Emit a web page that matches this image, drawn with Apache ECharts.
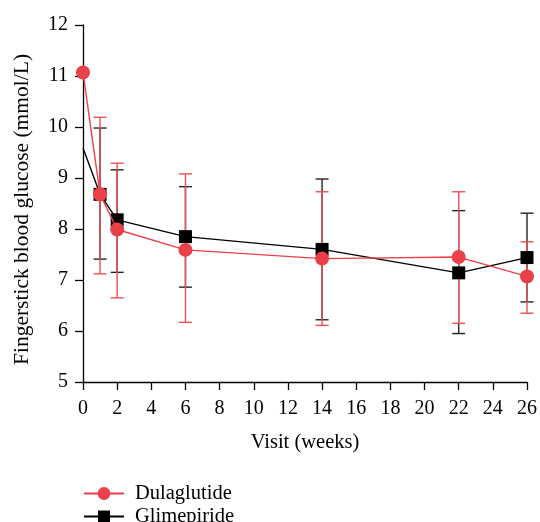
<!DOCTYPE html>
<html><head><meta charset="utf-8">
<script src="https://cdn.jsdelivr.net/npm/echarts@6/dist/echarts.min.js"></script>
<style>html,body{margin:0;padding:0;background:#fff}#c{width:540px;height:522px}</style>
</head><body><div id="c"></div>
<script>
var weeks = [0, 1, 2, 6, 14, 22, 26];
var dulaMean = [11.07, 8.68, 7.99, 7.59, 7.42, 7.45, 7.07];
var dulaUpper = [null, 10.19, 9.29, 9.08, 8.73, 8.73, 7.75];
var dulaLower = [null, 7.12, 6.65, 6.17, 6.11, 6.15, 6.35];
var glimMean = [9.59, 8.68, 8.18, 7.85, 7.60, 7.14, 7.44];
var glimUpper = [null, 9.98, 9.16, 8.83, 8.98, 8.36, 8.31];
var glimLower = [null, 7.41, 7.15, 6.86, 6.22, 5.95, 6.57];
var xTicks = [0, 2, 4, 6, 8, 10, 12, 14, 16, 18, 20, 22, 24, 26];
var yTicks = [5, 6, 7, 8, 9, 10, 11, 12];

var RED = '#ea4149', BLACK = '#000000';
var FONT = 'Liberation Serif';
var FS = 20;

function errData(up, lo) {
  var out = [];
  for (var i = 0; i < weeks.length; i++) if (up[i] != null) out.push([weeks[i], lo[i], up[i]]);
  return out;
}
function errSeries(up, lo, color, z) {
  return {
    type: 'custom', z: z, silent: true, legendHoverLink: false,
    data: errData(up, lo),
    renderItem: function (params, api) {
      var x = api.value(0);
      var p1 = api.coord([x, api.value(1)]);
      var p2 = api.coord([x, api.value(2)]);
      var w = 6.5;
      var st = { stroke: color, lineWidth: 1.4 };
      return { type: 'group', children: [
        { type: 'line', shape: { x1: p1[0], y1: p1[1], x2: p2[0], y2: p2[1] }, style: st },
        { type: 'line', shape: { x1: p1[0] - w, y1: p1[1], x2: p1[0] + w, y2: p1[1] }, style: st },
        { type: 'line', shape: { x1: p2[0] - w, y1: p2[1], x2: p2[0] + w, y2: p2[1] }, style: st }
      ]};
    }
  };
}
function pts(vals) { return weeks.map(function (w, i) { return [w, vals[i]]; }); }
var glimPts = pts(glimMean);
glimPts[0] = { value: glimPts[0], symbol: 'none' };

var legText = { fontFamily: FONT, fontSize: 20.5, color: '#000', padding: [0, 0, 0, 6] };
var chart = echarts.init(document.getElementById('c'));
chart.setOption({
  animation: false,
  grid: { left: 83, right: 11, top: 25, bottom: 140 },
  legend: [
    { left: 78, top: 478, itemWidth: 40, itemHeight: 16, itemGap: 4, textStyle: legText, data: ['Dulaglutide'] },
    { left: 78, top: 501, itemWidth: 40, itemHeight: 15, itemGap: 4, textStyle: legText, data: ['Glimepiride'] }
  ],
  xAxis: {
    type: 'value', min: 0, max: 26, interval: 2,
    name: 'Visit (weeks)', nameLocation: 'middle', nameGap: 50,
    nameTextStyle: { fontFamily: FONT, fontSize: 20.5, color: '#000' },
    axisLine: { lineStyle: { color: '#000', width: 1.3 } },
    axisTick: { length: 8, lineStyle: { color: '#000', width: 1.3 } },
    axisLabel: { fontFamily: FONT, fontSize: FS, color: '#000', margin: 17 },
    splitLine: { show: false }
  },
  yAxis: {
    type: 'value', min: 5, max: 12, interval: 1,
    name: 'Fingerstick blood glucose (mmol/L)', nameLocation: 'middle', nameGap: 50,
    nameTextStyle: { fontFamily: FONT, fontSize: 21.5, color: '#000', padding: [0, 12, 0, 0] },
    axisLine: { show: true, lineStyle: { color: '#000', width: 1.3 } },
    axisTick: { show: true, length: 8, lineStyle: { color: '#000', width: 1.3 } },
    axisLabel: { fontFamily: FONT, fontSize: FS, color: '#000', margin: 15 },
    splitLine: { show: false }
  },
  series: [
    errSeries(glimUpper, glimLower, '#222', 2),
    errSeries(dulaUpper, dulaLower, '#ec5055', 3),
    {
      name: 'Glimepiride', type: 'line', z: 4, data: glimPts,
      symbol: 'rect', symbolSize: 13, clip: false,
      itemStyle: { color: BLACK }, lineStyle: { color: BLACK, width: 1.4 }
    },
    {
      name: 'Dulaglutide', type: 'line', z: 5, data: pts(dulaMean),
      symbol: 'circle', symbolSize: 14, clip: false,
      itemStyle: { color: RED }, lineStyle: { color: RED, width: 1.4 }
    }
  ]
});
</script></body></html>
